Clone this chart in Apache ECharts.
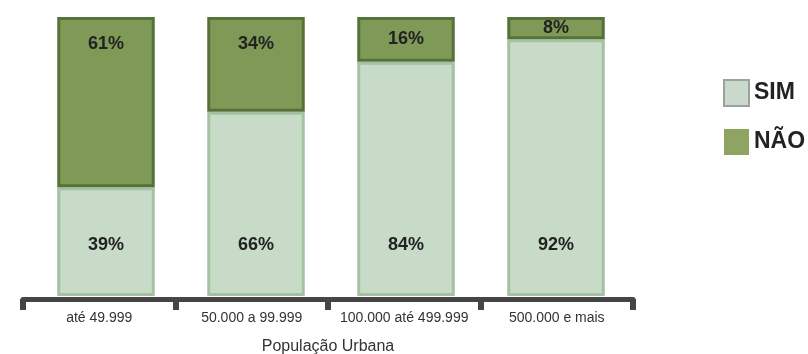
<!DOCTYPE html>
<html><head><meta charset="utf-8">
<script src="https://cdn.jsdelivr.net/npm/echarts@6/dist/echarts.min.js"></script>
<style>html,body{margin:0;padding:0;background:#fff}#c{width:808px;height:354px}</style>
</head><body><div id="c"></div>
<script>
const categories = ['até 49.999', '50.000 a 99.999', '100.000 até 499.999', '500.000 e mais'];
const simValues = [39, 66, 84, 92];
const naoValues = [61, 34, 16, 8];
const axisName = 'População Urbana';

const FONT = 'Liberation Sans, Arial, sans-serif';
const chart = echarts.init(document.getElementById('c'));
const labelStyle = { color: '#222', fontSize: 18, fontWeight: 'bold', fontFamily: FONT, formatter: '{c}%' };
chart.setOption({
  animation: false,
  grid: [
    { left: 31, right: 177, top: 17, bottom: 58, outerBoundsMode: 'none' },
    { left: 23, right: 175, top: 17, bottom: 55, outerBoundsMode: 'none' }
  ],
  legend: {
    orient: 'vertical', left: 718, top: 74, icon: 'rect',
    itemWidth: 25, itemHeight: 26, itemGap: 22,
    textStyle: { fontSize: 23, fontWeight: 'bold', color: '#222', fontFamily: FONT },
    data: [
      { name: 'SIM', itemStyle: { color: '#c9d9cc', borderColor: '#9aa29c', borderWidth: 2 } },
      { name: 'NÃO', itemStyle: { color: '#8fa363', borderColor: '#8fa363', borderWidth: 0 } }
    ]
  },
  xAxis: [
    { type: 'category', gridIndex: 0, data: categories, show: false },
    {
      type: 'category', gridIndex: 1, data: categories,
      name: axisName, nameLocation: 'middle', nameGap: 40,
      nameTextStyle: { fontSize: 16, color: '#333', fontFamily: FONT },
      axisLine: { lineStyle: { color: '#454545', width: 5 } },
      axisTick: { show: true, interval: 0, length: 11, lineStyle: { color: '#454545', width: 6 } },
      axisLabel: { interval: 0, fontSize: 14, color: '#333', margin: 12, fontFamily: FONT }
    }
  ],
  yAxis: [
    { type: 'value', gridIndex: 0, min: 0, max: 100, show: false },
    { type: 'value', gridIndex: 1, min: 0, max: 100, show: false }
  ],
  series: [
    {
      name: 'SIM', type: 'bar', stack: 'a', barWidth: '65%', xAxisIndex: 0, yAxisIndex: 0,
      itemStyle: { color: '#c8dbc8', borderColor: '#a3c2a1', borderWidth: 3 },
      label: Object.assign({ show: true, position: 'insideBottom', distance: 42 }, labelStyle),
      data: simValues
    },
    {
      name: 'NÃO', type: 'bar', stack: 'a', barWidth: '65%', xAxisIndex: 0, yAxisIndex: 0,
      itemStyle: { color: '#7f9a56', borderColor: '#56713a', borderWidth: 3 },
      label: Object.assign({ show: true, position: 'insideTop', distance: 18 }, labelStyle),
      data: naoValues.map(v => v < 25 ? { value: v, label: { position: 'inside' } } : v)
    }
  ]
});
</script></body></html>
